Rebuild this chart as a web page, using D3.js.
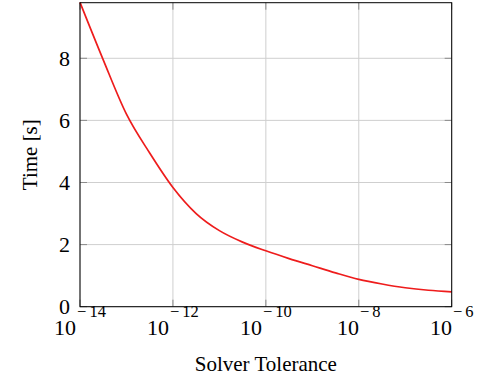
<!DOCTYPE html>
<html>
<head>
<meta charset="utf-8">
<script src="https://cdn.jsdelivr.net/npm/d3@7"></script>
<style>
  body { margin: 0; background: #fff; }
  text { font-family: "Liberation Serif", "Times New Roman", serif; fill: #000; }
</style>
</head>
<body>
<div id="chart"></div>
<script>
// solver tolerance (exponent of 10) and measured time in seconds
const tolExp = [-14, -13.5, -13, -12.5, -12, -11.5, -11, -10.5, -10, -9.5, -9, -8.5, -8, -7.5, -7, -6.5, -6];
const timeSec = [9.8, 7.95, 6.2, 4.95, 3.84, 3.0, 2.45, 2.08, 1.8, 1.55, 1.32, 1.09, 0.88, 0.73, 0.61, 0.53, 0.48];

const xTickExp = [-14, -12, -10, -8, -6];
const yTicks = [0, 2, 4, 6, 8];

const width = 479, height = 377;
const margin = { left: 80, right: 27.3, top: 2.7, bottom: 70.3 };

const svg = d3.select('#chart')
    .append('svg')
    .attr('width', width)
    .attr('height', height);

const x = d3.scaleLog()
    .domain([1e-14, 1e-6])
    .range([margin.left, width - margin.right]);

const y = d3.scaleLinear()
    .domain([0, 9.79])
    .range([height - margin.bottom, margin.top]);

const x0 = x.range()[0], x1 = x.range()[1];
const y0 = y.range()[0], y1 = y.range()[1];

/* grid */
const grid = svg.append('g').attr('class', 'grid');
grid.selectAll('.vgrid')
    .data(xTickExp)
    .enter().append('line')
    .attr('x1', d => x(Math.pow(10, d))).attr('x2', d => x(Math.pow(10, d)))
    .attr('y1', y1).attr('y2', y0)
    .attr('stroke', '#cfcfcf').attr('stroke-width', 1);
grid.selectAll('.hgrid')
    .data(yTicks)
    .enter().append('line')
    .attr('x1', x0).attr('x2', x1)
    .attr('y1', d => y(d)).attr('y2', d => y(d))
    .attr('stroke', '#cfcfcf').attr('stroke-width', 1);

/* inner tick marks on all four sides */
const tickLen = 7;
const ticks = svg.append('g').attr('stroke', '#8a8a8a').attr('stroke-width', 1);
xTickExp.forEach(e => {
    const px = x(Math.pow(10, e));
    ticks.append('line').attr('x1', px).attr('x2', px).attr('y1', y0).attr('y2', y0 - tickLen);
    ticks.append('line').attr('x1', px).attr('x2', px).attr('y1', y1).attr('y2', y1 + tickLen);
});
yTicks.forEach(v => {
    const py = y(v);
    ticks.append('line').attr('x1', x0).attr('x2', x0 + tickLen).attr('y1', py).attr('y2', py);
    ticks.append('line').attr('x1', x1).attr('x2', x1 - tickLen).attr('y1', py).attr('y2', py);
});

/* data line */
const line = d3.line()
    .x((d, i) => x(Math.pow(10, tolExp[i])))
    .y(d => y(d))
    .curve(d3.curveMonotoneX);

svg.append('path')
    .datum(timeSec)
    .attr('fill', 'none')
    .attr('stroke', '#ee1c1c')
    .attr('stroke-width', 1.7)
    .attr('d', line);

/* frame */
svg.append('rect')
    .attr('x', x0).attr('y', y1)
    .attr('width', x1 - x0).attr('height', y0 - y1)
    .attr('fill', 'none')
    .attr('stroke', '#000')
    .attr('stroke-width', 1);

/* x tick labels: "10" with superscript exponent, centred on the tick */
xTickExp.forEach(e => {
    const g = svg.append('g');
    const base = g.append('text')
        .attr('x', 0).attr('y', 335)
        .style('font-size', '22px')
        .text('10');
    const bw = base.node().getComputedTextLength();
    const sup = g.append('text')
        .attr('x', bw + 1).attr('y', 317)
        .style('font-size', '16.5px');
    sup.append('tspan').text('\u2212');
    sup.append('tspan').attr('dx', 3).text(Math.abs(e));
    const total = bw + 4 + sup.node().getComputedTextLength();
    g.attr('transform', `translate(${x(Math.pow(10, e)) - total / 2}, 0)`);
});

/* y tick labels */
svg.append('g').selectAll('text')
    .data(yTicks)
    .enter().append('text')
    .attr('x', 70)
    .attr('y', d => y(d))
    .attr('dy', '0.35em')
    .attr('text-anchor', 'end')
    .style('font-size', '22px')
    .text(d => d);

/* axis titles */
svg.append('text')
    .attr('x', (x0 + x1) / 2)
    .attr('y', 371)
    .attr('text-anchor', 'middle')
    .style('font-size', '21px')
    .text('Solver Tolerance');

svg.append('text')
    .attr('transform', `translate(37, ${(y0 + y1) / 2}) rotate(-90)`)
    .attr('text-anchor', 'middle')
    .style('font-size', '21px')
    .text('Time [s]');
</script>
</body>
</html>
